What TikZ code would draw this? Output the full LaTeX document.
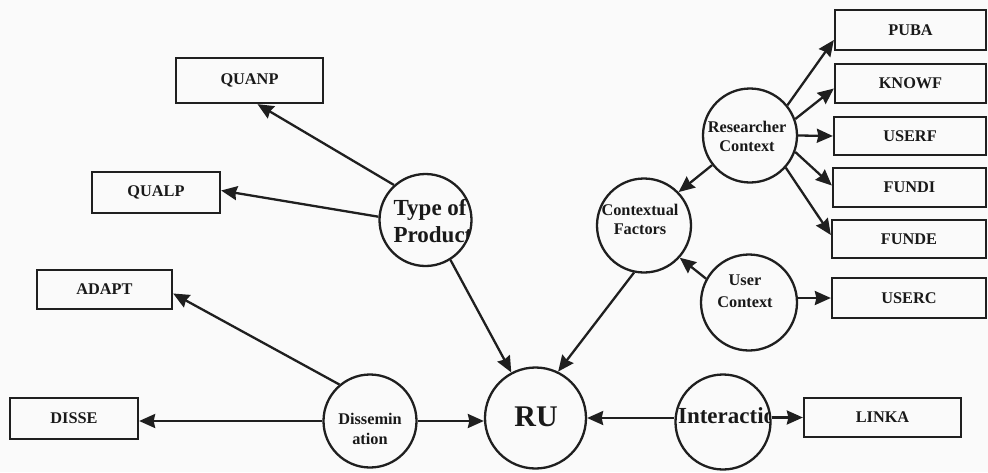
\documentclass[tikz,border=0pt]{standalone}
\usepackage{fontspec}
\setmainfont{Liberation Serif}
\usetikzlibrary{arrows.meta,calc}
\begin{document}
\begin{tikzpicture}[x=1pt,y=-1pt,
  ink/.style={draw=black!88, line width=2.3pt},
  factor/.style={ink, rectangle, inner sep=0pt, text=black!90,
    font=\bfseries\fontsize{16.3}{19}\selectfont},
  bubble/.style={ink, circle, inner sep=0pt, minimum size=#1},
  lbl/.style={inner sep=0pt, align=center, text=black!90},
  small/.style={font=\bfseries\fontsize{16.3}{#1}\selectfont},
  big/.style={font=\bfseries\fontsize{23}{27}\selectfont},
  link/.style={ink, -{Stealth[length=16pt,width=14pt,inset=1.5pt]}},
]
% paper
\fill[white!98!black] (0,0) rectangle (988,472);
\useasboundingbox (0,0) rectangle (988,472);

% factor boxes
\node[factor, minimum width=147pt, minimum height=45pt] (quanp) at (249.5,80.5) {QUANP};
\node[factor, minimum width=128pt, minimum height=41pt] (qualp) at (156,192.5) {QUALP};
\node[factor, minimum width=135pt, minimum height=39pt] (adapt) at (104.5,289.5) {ADAPT};
\node[factor, minimum width=128pt, minimum height=41pt] (disse) at (74,418.5) {DISSE};
\node[factor, minimum width=151pt, minimum height=40pt] (puba) at (910.5,30) {PUBA};
\node[factor, minimum width=151pt, minimum height=39pt] (knowf) at (910.5,83.5) {KNOWF};
\node[factor, minimum width=152pt, minimum height=38pt] (userf) at (910,136) {USERF};
\node[factor, minimum width=153pt, minimum height=39pt] (fundi) at (909.5,187.5) {FUNDI};
\node[factor, minimum width=154pt, minimum height=38pt] (funde) at (909,239) {FUNDE};
\node[factor, minimum width=154pt, minimum height=40pt] (userc) at (909,298) {USERC};
\node[factor, minimum width=157pt, minimum height=39pt] (linka) at (882.5,417.5) {LINKA};

% concept circles
\node[bubble=92pt] (type) at (425.5,220) {};
\node[bubble=94pt] (ctx) at (644,225.5) {};
\node[bubble=94pt] (res) at (750,135.5) {};
\node[bubble=96pt] (user) at (749,302.5) {};
\node[bubble=93pt] (diss) at (370,421) {};
\node[bubble=95pt] (inter) at (723,422) {};
\node[bubble=101pt] (ru) at (535.5,418) {};

% circle labels, cut off at the rim
\begin{scope}
  \clip (type) circle[radius=46];
  \node[lbl, big, align=left] (typetxt) at (433,221) {Type of\\Product};
\end{scope}
\begin{scope}
  \clip (ctx) circle[radius=47];
  \node[lbl, small=19] (ctxtxt) at (640,219) {Contextual\\Factors};
\end{scope}
\begin{scope}
  \clip (res) circle[radius=47];
  \node[lbl, small=19] (restxt) at (747,136) {Researcher\\Context};
\end{scope}
\begin{scope}
  \clip (user) circle[radius=48];
  \node[lbl, small=22] (usertxt) at (745,291.5) {User\\Context};
\end{scope}
\begin{scope}
  \clip (diss) circle[radius=46.5];
  \node[lbl, small=20] (disstxt) at (370,428.5) {Dissemin\\ation};
\end{scope}
\begin{scope}
  \clip (inter) circle[radius=47.5];
  \node[lbl, big] (intertxt) at (733,416) {Interaction};
\end{scope}
\node[lbl, font=\bfseries\fontsize{30}{34}\selectfont] (rutxt) at (536,416.5) {RU};

% connectors
\draw[link] (type.132) -- ($(quanp.south)+(8,0)$);
\draw[link] (type.176) -- ($(qualp.east)+(0,-2)$);
\draw[link] (type.-58) -- (ru.118);
\draw[link] (ctx.-102) -- (ru.64);
\draw[link] (res.218) -- (ctx.44);
\draw[link] (res.39) -- ($(puba.west)+(0,10)$);
\draw[link] (res.20) -- ($(knowf.west)+(0,5)$);
\draw[link] (res.east) -- (userf.west);
\draw[link] (res.-20) -- ($(fundi.west)+(0,-2)$);
\draw[link] (res.-42) -- ($(funde.west)+(0,-4)$);
\draw[link] (user.151) -- (ctx.-42);
\draw[link] (user.east |- userc.west) -- (userc.west);
\draw[link] (diss.130) -- ($(adapt.east)+(0,4)$);
\draw[link] (diss.west) -- (disse.east |- diss.west);
\draw[link] (diss.east) -- (ru.west |- diss.east);
\draw[link] (inter.west |- ru.east) -- (ru.east);
\draw[link] (inter.east |- linka.west) -- (linka.west);
\end{tikzpicture}
\end{document}
